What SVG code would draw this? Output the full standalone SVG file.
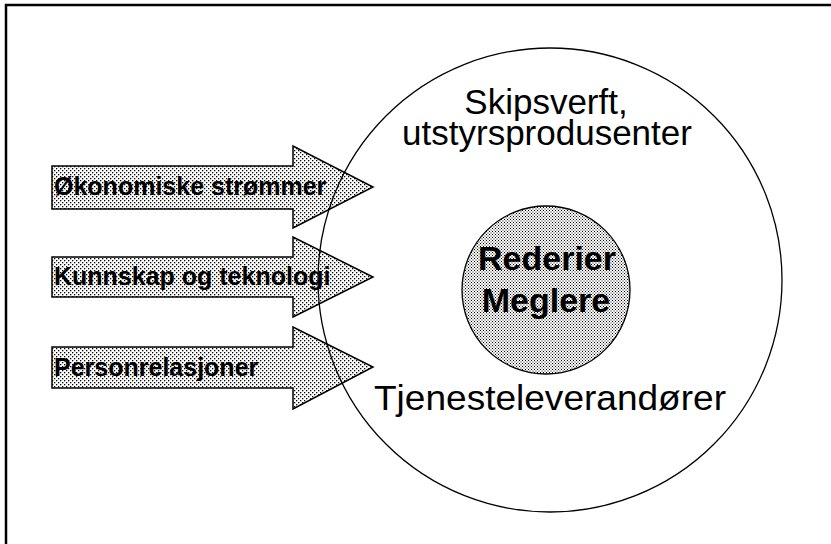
<svg xmlns="http://www.w3.org/2000/svg" width="831" height="544" viewBox="0 0 831 544">
  <style>
    .frame { fill: none; stroke: #000; stroke-width: 2.5; }
    .arrow { stroke: #000; stroke-width: 1.5; stroke-linejoin: miter; fill: url(#dotsLight); }
    .ring { fill: none; stroke: #000; stroke-width: 1.3; }
    .core { fill: url(#dotsDense); stroke: #000; stroke-width: 1.3; }
    .flowLabel { font-family: "Liberation Sans", Arial, sans-serif; font-weight: bold; font-size: 25px; fill: #000; }
    .ringLabel { font-family: "Liberation Sans", Arial, sans-serif; font-size: 35px; fill: #000; text-anchor: middle; }
    .coreLabel { font-family: "Liberation Sans", Arial, sans-serif; font-weight: bold; font-size: 34px; fill: #000; text-anchor: middle; }
  </style>
  <defs>
    <!-- halftone screens -->
    <pattern id="dotsLight" width="4" height="4" patternUnits="userSpaceOnUse">
      <rect width="4" height="4" fill="#fff"/>
      <rect x="0" y="0" width="1.3" height="1.3" fill="#000"/>
      <rect x="2" y="2" width="1.3" height="1.3" fill="#000"/>
    </pattern>
    <pattern id="dotsDense" width="3" height="3" patternUnits="userSpaceOnUse">
      <rect width="3" height="3" fill="#fff"/>
      <rect x="0" y="0" width="1" height="1" fill="#000"/>
      <rect x="1.5" y="1.5" width="1" height="1" fill="#000"/>
    </pattern>
  </defs>

  <rect width="831" height="544" fill="#fff"/>
  <!-- page frame (top and left edges) -->
  <polyline class="frame" points="6,544 6,5 831,5"/>

  <g id="connectors">
    <g id="flow-economy">
      <polygon class="arrow" points="52,166 293,166 293,146 373,187 293,228 293,209 52,209"/>
      <text class="flowLabel" x="54" y="195">Økonomiske strømmer</text>
    </g>
    <g id="flow-knowledge">
      <polygon class="arrow" points="52,257 293,257 293,237 373,277 293,317 293,297 52,297"/>
      <text class="flowLabel" x="54" y="285">Kunnskap og teknologi</text>
    </g>
    <g id="flow-people">
      <polygon class="arrow" points="52,347 293,347 293,327 373,367 293,409 293,388 52,388"/>
      <text class="flowLabel" x="54" y="376">Personrelasjoner</text>
    </g>
  </g>

  <g id="cluster">
    <circle class="ring" cx="550" cy="280" r="232"/>
    <text class="ringLabel" x="546" y="114">Skipsverft,</text>
    <text class="ringLabel" x="547" y="145">utstyrsprodusenter</text>
    <text class="ringLabel" x="550" y="410" textLength="352" lengthAdjust="spacingAndGlyphs">Tjenesteleverandører</text>
  </g>

  <g id="core">
    <circle class="core" cx="546" cy="290" r="84"/>
    <text class="coreLabel" x="547" y="270">Rederier</text>
    <text class="coreLabel" x="546" y="312">Meglere</text>
  </g>
</svg>
